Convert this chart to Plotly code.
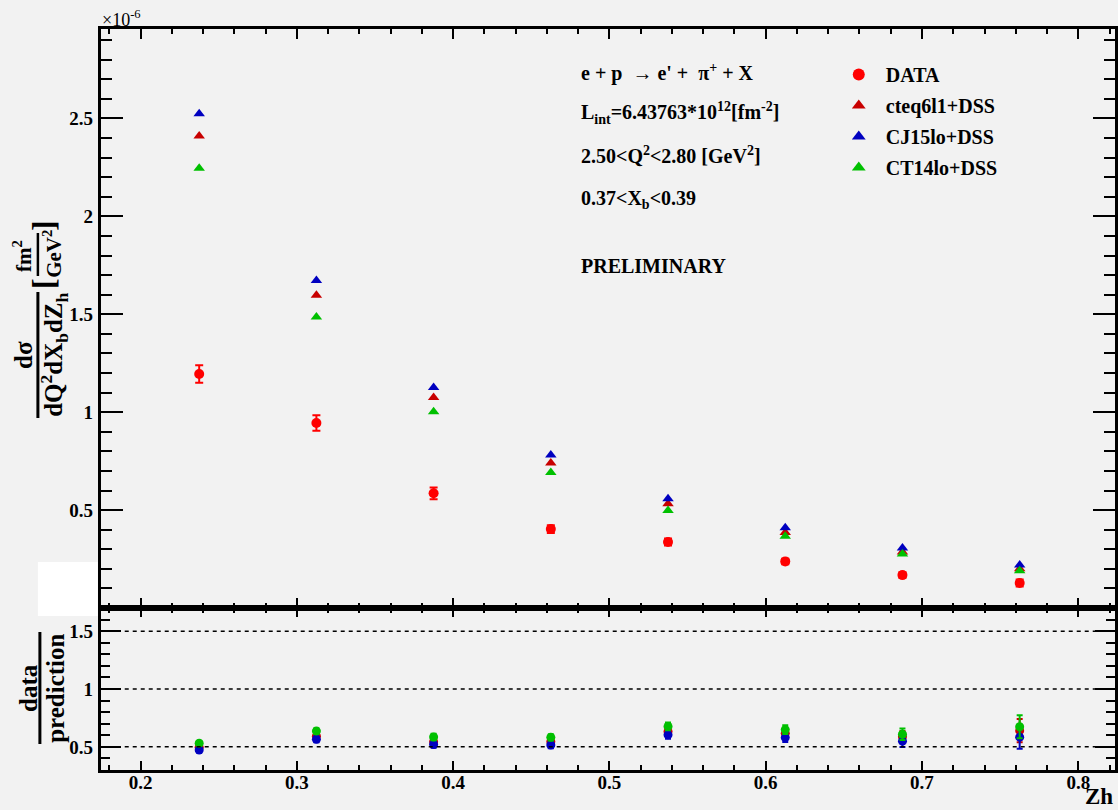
import plotly.graph_objects as go

# ---------------- data ----------------
zh = [0.2375, 0.3125, 0.3875, 0.4625, 0.5375, 0.6125, 0.6875, 0.7625]
data_xs = [1.195, 0.945, 0.586, 0.403, 0.337, 0.238, 0.168, 0.128]
data_err = [0.045, 0.04, 0.03, 0.02, 0.018, 0.014, 0.014, 0.018]
cteq6l1 = [2.41, 1.597, 1.075, 0.741, 0.532, 0.386, 0.286, 0.200]
cj15lo = [2.524, 1.672, 1.126, 0.781, 0.558, 0.410, 0.306, 0.219]
ct14lo = [2.246, 1.486, 1.002, 0.692, 0.498, 0.367, 0.276, 0.190]

ratio_cteq = [0.496, 0.592, 0.545, 0.544, 0.633, 0.617, 0.587, 0.640]
ratio_cj15 = [0.473, 0.565, 0.520, 0.516, 0.604, 0.580, 0.549, 0.584]
ratio_ct14 = [0.532, 0.636, 0.585, 0.582, 0.677, 0.649, 0.609, 0.674]
ratio_err = [0.019, 0.025, 0.028, 0.027, 0.034, 0.038, 0.05, 0.10]

top_ticks = [0.5, 1, 1.5, 2, 2.5]
top_ticklabels = ["0.5", "1", "1.5", "2", "2.5"]
bot_ticks = [0.5, 1, 1.5]
bot_ticklabels = ["0.5", "1", "1.5"]
x_ticks = [0.2, 0.3, 0.4, 0.5, 0.6, 0.7, 0.8]
x_ticklabels = ["0.2", "0.3", "0.4", "0.5", "0.6", "0.7", "0.8"]
ref_lines = [0.5, 1.0, 1.5]

# ---------------- style ----------------
W, H = 1118, 810
BG = "#f2f2f2"
SERIF = "Liberation Serif"
C_DATA = "#ff0000"
C_CTEQ = "#c80000"
C_CJ15 = "#0000c0"
C_CT14 = "#00c000"


def px(x):
    return x / W


def py(y):
    return 1 - y / H


X_RANGE = [0.1745, 0.8235]
TOP_DOM = [py(608), py(29)]
BOT_DOM = [py(770), py(608)]
X_DOM = [px(101), 1.0]

fig = go.Figure()

# top panel
fig.add_trace(go.Scatter(
    x=zh, y=data_xs, mode="markers", name="DATA",
    error_y=dict(type="data", array=data_err, color=C_DATA, thickness=2, width=4),
    marker=dict(symbol="circle", size=10, color=C_DATA),
    xaxis="x2", yaxis="y2", legendgroup="a"))
fig.add_trace(go.Scatter(
    x=zh, y=cteq6l1, mode="markers", name="cteq6l1+DSS",
    marker=dict(symbol="triangle-up", size=10, color=C_CTEQ),
    xaxis="x2", yaxis="y2", legendgroup="b"))
fig.add_trace(go.Scatter(
    x=zh, y=cj15lo, mode="markers", name="CJ15lo+DSS",
    marker=dict(symbol="triangle-up", size=10, color=C_CJ15),
    xaxis="x2", yaxis="y2", legendgroup="c"))
fig.add_trace(go.Scatter(
    x=zh, y=ct14lo, mode="markers", name="CT14lo+DSS",
    marker=dict(symbol="triangle-up", size=10, color=C_CT14),
    xaxis="x2", yaxis="y2", legendgroup="d"))

# ratio panel
for vals, col in ((ratio_cteq, C_CTEQ), (ratio_cj15, C_CJ15), (ratio_ct14, C_CT14)):
    fig.add_trace(go.Scatter(
        x=zh, y=vals, mode="markers", showlegend=False,
        error_y=dict(type="data", array=ratio_err, color=col, thickness=2, width=3),
        marker=dict(symbol="circle", size=9, color=col),
        xaxis="x", yaxis="y"))

tickfont = dict(family=SERIF, size=19, color="black", weight="bold")
common_axis = dict(showline=True, linewidth=3, linecolor="black", mirror="allticks",
                   ticks="inside", tickcolor="black", tickwidth=1.5, showgrid=False,
                   zeroline=False, tickfont=tickfont)

fig.update_layout(
    width=W, height=H,
    margin=dict(l=0, r=0, t=0, b=0),
    paper_bgcolor=BG, plot_bgcolor=BG,
    xaxis=dict(domain=X_DOM, range=X_RANGE, anchor="y", tickvals=x_ticks,
               ticktext=x_ticklabels, ticklen=9, ticklabelstandoff=-7,
               minor=dict(dtick=0.02, tick0=0.2, ticklen=5, ticks="inside",
                          tickcolor="black", tickwidth=1.5),
               **common_axis),
    yaxis=dict(domain=BOT_DOM, range=[0.3, 1.7], anchor="x", tickvals=bot_ticks,
               ticktext=bot_ticklabels, ticklen=20, ticklabelstandoff=1,
               minor=dict(dtick=0.1, tick0=0, ticklen=9, ticks="inside",
                          tickcolor="black", tickwidth=1.5),
               **common_axis),
    xaxis2=dict(domain=X_DOM, range=X_RANGE, anchor="y2", matches="x",
                tickvals=x_ticks, showticklabels=False, ticklen=10,
                minor=dict(dtick=0.02, tick0=0.2, ticklen=5, ticks="inside",
                           tickcolor="black", tickwidth=1.5),
                **common_axis),
    yaxis2=dict(domain=TOP_DOM, range=[0, 2.957], anchor="x2", tickvals=top_ticks,
                ticktext=top_ticklabels, ticklen=22, ticklabelstandoff=1,
                minor=dict(dtick=0.1, tick0=0, ticklen=11, ticks="inside",
                           tickcolor="black", tickwidth=1.5),
                **common_axis),
    legend=dict(x=px(834), y=py(55), xanchor="left", yanchor="top",
                bgcolor="rgba(0,0,0,0)", borderwidth=0, tracegroupgap=2,
                itemwidth=44,
                font=dict(family=SERIF, size=20, color="black", weight="bold"),
                itemsizing="constant"),
)

# reference dashed lines in ratio panel
for v in ref_lines:
    fig.add_shape(type="line", xref="x domain", yref="y", x0=0, x1=1, y0=v, y1=v,
                  line=dict(color="black", width=1.5, dash="4px,4px"))

# white box hiding the zero label (as in the original)
fig.add_shape(type="rect", xref="paper", yref="paper",
              x0=px(38), x1=px(98), y0=py(616), y1=py(562),
              fillcolor="white", line=dict(width=0), layer="above")


def text(xp, yp, s, size=20, xanchor="left", angle=0, weight="bold"):
    fig.add_annotation(x=px(xp), y=py(yp), xref="paper", yref="paper", text=s,
                       showarrow=False, xanchor=xanchor, yanchor="middle",
                       textangle=angle,
                       font=dict(family=SERIF, size=size, color="black", weight=weight))


NB = "\u00a0"
text(581, 72, "e + p " + NB + "\u2192 e' + " + NB + "\u03c0<sup>+</sup> + X")
text(581, 113, "L<sub>int</sub>=6.43763*10<sup>12</sup>[fm<sup>-2</sup>]")
text(581, 155, "2.50&lt;Q<sup>2</sup>&lt;2.80 [GeV<sup>2</sup>]")
text(581, 199, "0.37&lt;X<sub>b</sub>&lt;0.39")
text(581, 266, "PRELIMINARY")

# exponent label
text(100, 18, "\u00d710<sup>-6</sup>", size=18, weight="normal")

# axis title Zh
fig.add_annotation(x=1.0, y=py(811), xref="paper", yref="paper", text="Zh",
                   showarrow=False, xanchor="right", yanchor="bottom",
                   font=dict(family=SERIF, size=23, color="black", weight="bold"))

# top y-axis title (stacked fraction, rotated)
text(24, 355, "d\u03c3", size=25, xanchor="center", angle=-90)
text(54, 355, "dQ<sup>2</sup>dX<sub>b</sub>dZ<sub>h</sub>", size=25, xanchor="center", angle=-90)
fig.add_shape(type="line", xref="paper", yref="paper", x0=px(38), x1=px(38),
              y0=py(292), y1=py(418), line=dict(color="black", width=3))
text(43, 283, "[", size=32, xanchor="center", angle=-90)
text(23, 256, "fm<sup>2</sup>", size=21, xanchor="center", angle=-90)
text(53, 254, "GeV<sup>2</sup>", size=21, xanchor="center", angle=-90)
fig.add_shape(type="line", xref="paper", yref="paper", x0=px(38), x1=px(38),
              y0=py(233), y1=py(276), line=dict(color="black", width=2.5))
text(43, 225, "]", size=32, xanchor="center", angle=-90)

# bottom y-axis title
text(28, 688, "data", size=25, xanchor="center", angle=-90)
text(55, 688, "prediction", size=25, xanchor="center", angle=-90)
fig.add_shape(type="line", xref="paper", yref="paper", x0=px(40), x1=px(40),
              y0=py(632), y1=py(744), line=dict(color="black", width=3))

fig.write_html(
    "out.html",
    config={"displayModeBar": False},
    post_script="document.body.style.margin='0px';"
                "document.body.style.background='#f2f2f2';"
                "document.body.style.overflow='hidden';",
)
